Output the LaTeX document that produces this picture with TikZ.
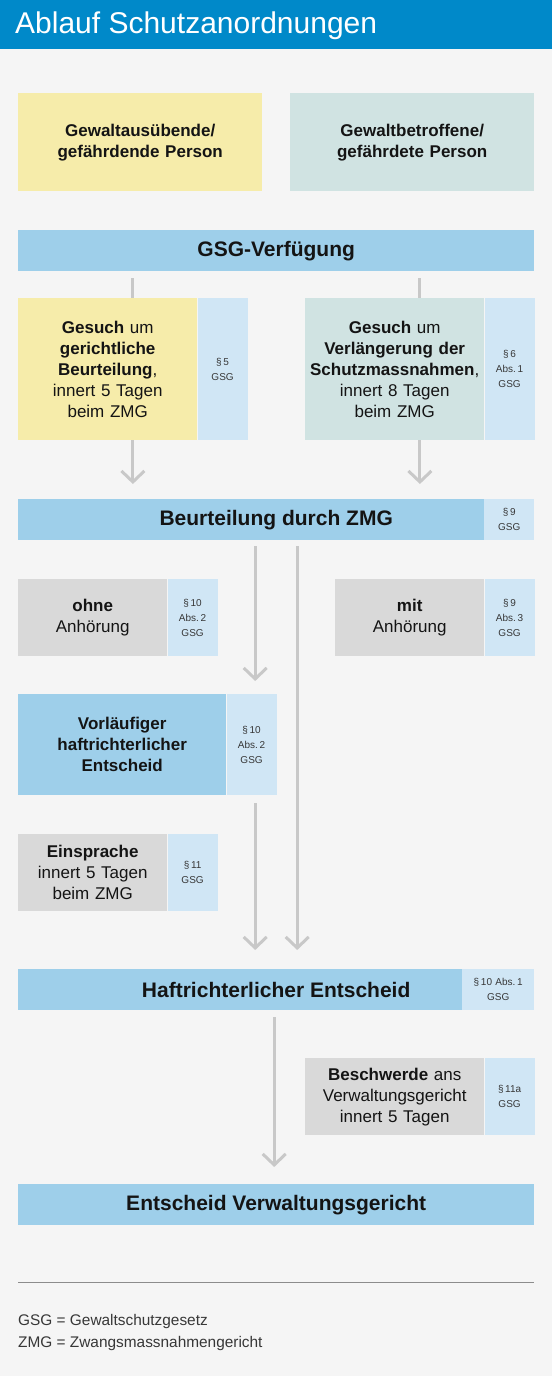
\documentclass[tikz,border=0pt]{standalone}
\usepackage{fontspec}
\setmainfont{Liberation Sans}
\usepackage{xcolor}
\definecolor{kopfblau}{RGB}{0,137,201}
\definecolor{hintergrund}{RGB}{245,245,245}
\definecolor{gelb}{RGB}{246,236,170}
\definecolor{tuerkis}{RGB}{208,227,226}
\definecolor{balkenblau}{RGB}{158,207,234}
\definecolor{refblau}{RGB}{208,230,245}
\definecolor{kastengrau}{RGB}{217,217,217}
\definecolor{pfeilgrau}{RGB}{200,200,200}
\definecolor{textschwarz}{RGB}{20,20,20}
\usetikzlibrary{positioning,calc,arrows.meta}

\tikzset{
  feld/.style={anchor=north west, inner sep=0pt, align=center, text=textschwarz,
    font=\fontsize{17}{21}\selectfont},
  paragraf/.style={inner sep=0pt, align=center, fill=refblau, text width=50pt,
    text=textschwarz!85, font=\fontsize{10}{15}\selectfont},
  balken/.style={anchor=north west, inner sep=0pt, fill=balkenblau,
    minimum width=516pt, minimum height=41pt, text=textschwarz,
    font=\bfseries\fontsize{21}{24}\selectfont},
  linie/.style={draw=pfeilgrau, line width=3pt},
  fluss/.style={linie, -{Straight Barb[length=11pt,width=23pt]}},
}

\begin{document}
\begin{tikzpicture}[x=1pt,y=-1pt]
  % Hintergrund und Kopfzeile
  \fill[hintergrund] (0,0) rectangle (552,1376);
  \fill[kopfblau] (0,0) rectangle (552,49);
  \node[anchor=base west, inner sep=0pt, text=white,
        font=\fontsize{30}{36}\selectfont] (titel) at (15,33.5)
    {Ablauf Schutzanordnungen};

  % Beteiligte Personen
  \node[feld, fill=gelb, text width=244pt, minimum height=98pt,
        font=\bfseries\fontsize{17}{21}\selectfont] (taeter) at (18,93)
    {Gewaltausübende/\\gefährdende Person};
  \node[feld, fill=tuerkis, text width=244pt, minimum height=98pt,
        font=\bfseries\fontsize{17}{21}\selectfont] (opfer) at (290,93)
    {Gewaltbetroffene/\\gefährdete Person};

  % GSG-Verfuegung
  \node[balken] (gsg) at (18,230) {GSG-Verfügung};

  % Gesuche
  \node[feld, fill=gelb, text width=179pt, minimum height=142pt] (gesuchA) at (18,298)
    {\textbf{Gesuch} um\\\textbf{gerichtliche}\\\textbf{Beurteilung},\\innert 5 Tagen\\beim ZMG};
  \node[paragraf, right=0pt of gesuchA, minimum height=142pt] (gesuchAref)
    {§\,5\\GSG};
  \node[feld, fill=tuerkis, text width=179pt, minimum height=142pt] (gesuchB) at (305,298)
    {\textbf{Gesuch} um\\\textbf{Verlängerung der}\\\textbf{Schutzmassnahmen},\\innert 8 Tagen\\beim ZMG};
  \node[paragraf, right=0pt of gesuchB, minimum height=142pt] (gesuchBref)
    {§\,6\\Abs.\,1\\GSG};

  % Beurteilung
  \node[balken] (beurteilung) at (18,499) {Beurteilung durch ZMG};
  \node[paragraf, anchor=north west, minimum height=41pt] (beurteilungref) at (484,499)
    {§\,9\\GSG};

  % Anhoerung
  \node[feld, fill=kastengrau, text width=149pt, minimum height=77pt] (ohne) at (18,579)
    {\textbf{ohne}\\Anhörung};
  \node[paragraf, right=0pt of ohne, minimum height=77pt] (ohneref)
    {§\,10\\Abs.\,2\\GSG};
  \node[feld, fill=kastengrau, text width=149pt, minimum height=77pt] (mit) at (335,579)
    {\textbf{mit}\\Anhörung};
  \node[paragraf, right=0pt of mit, minimum height=77pt] (mitref)
    {§\,9\\Abs.\,3\\GSG};

  % Vorlaeufiger Entscheid und Einsprache
  \node[feld, fill=balkenblau, text width=208pt, minimum height=101pt,
        font=\bfseries\fontsize{17}{21}\selectfont] (vorlaeufig) at (18,694)
    {Vorläufiger\\haftrichterlicher\\Entscheid};
  \node[paragraf, right=0pt of vorlaeufig, minimum height=101pt] (vorlaeufigref)
    {§\,10\\Abs.\,2\\GSG};
  \node[feld, fill=kastengrau, text width=149pt, minimum height=77pt] (einsprache) at (18,834)
    {\textbf{Einsprache}\\innert 5 Tagen\\beim ZMG};
  \node[paragraf, right=0pt of einsprache, minimum height=77pt] (einspracheref)
    {§\,11\\GSG};

  % Haftrichterlicher Entscheid
  \node[balken] (haft) at (18,969) {Haftrichterlicher Entscheid};
  \node[paragraf, anchor=north west, text width=72pt, minimum height=41pt] (haftref) at (462,969)
    {§\,10 Abs.\,1\\GSG};

  % Beschwerde und Verwaltungsgericht
  \node[feld, fill=kastengrau, text width=179pt, minimum height=77pt] (beschwerde) at (305,1058)
    {\textbf{Beschwerde} ans\\Verwaltungsgericht\\innert 5 Tagen};
  \node[paragraf, right=0pt of beschwerde, minimum height=77pt] (beschwerderef)
    {§\,11a\\GSG};
  \node[balken] (entscheid) at (18,1184) {Entscheid Verwaltungsgericht};

  % Verbindungen
  \coordinate (wegA) at ($(gesuchA.south west)!.5!(gesuchAref.south east)$);
  \coordinate (wegB) at ($(gesuchB.south west)!.5!(gesuchBref.south east)$);
  \coordinate (wegOhne) at ([xshift=-21pt]beurteilung.south);
  \coordinate (wegMit) at ([xshift=21pt]beurteilung.south);
  \draw[linie, shorten <=7pt] (wegA |- gsg.south) -- (wegA |- gesuchA.north);
  \draw[linie, shorten <=7pt] (wegB |- gsg.south) -- (wegB |- gesuchB.north);
  \draw[fluss, shorten >=15pt] (wegA) -- (wegA |- beurteilung.north);
  \draw[fluss, shorten >=15pt] (wegB) -- (wegB |- beurteilung.north);
  \draw[fluss, shorten <=6pt, shorten >=13pt] (wegOhne) -- (wegOhne |- vorlaeufig.north);
  \draw[fluss, shorten <=8pt, shorten >=19pt] (wegOhne |- vorlaeufig.south) -- (wegOhne |- haft.north);
  \draw[fluss, shorten <=6pt, shorten >=19pt] (wegMit) -- (wegMit |- haft.north);
  \draw[fluss, shorten <=7pt, shorten >=17pt] ([xshift=-2pt]haft.south) -- ([xshift=-2pt]entscheid.north);

  % Legende
  \draw[black!45, line width=1pt] (18,1282) -- (534,1282);
  \node[anchor=base west, inner sep=0pt, text=textschwarz!85,
        font=\fontsize{15.4}{22}\selectfont] (legendeGSG) at (18,1325)
    {GSG = Gewaltschutzgesetz};
  \node[anchor=base west, inner sep=0pt, text=textschwarz!85,
        font=\fontsize{15.4}{22}\selectfont] (legendeZMG) at (18,1347)
    {ZMG = Zwangsmassnahmengericht};
\end{tikzpicture}
\end{document}
